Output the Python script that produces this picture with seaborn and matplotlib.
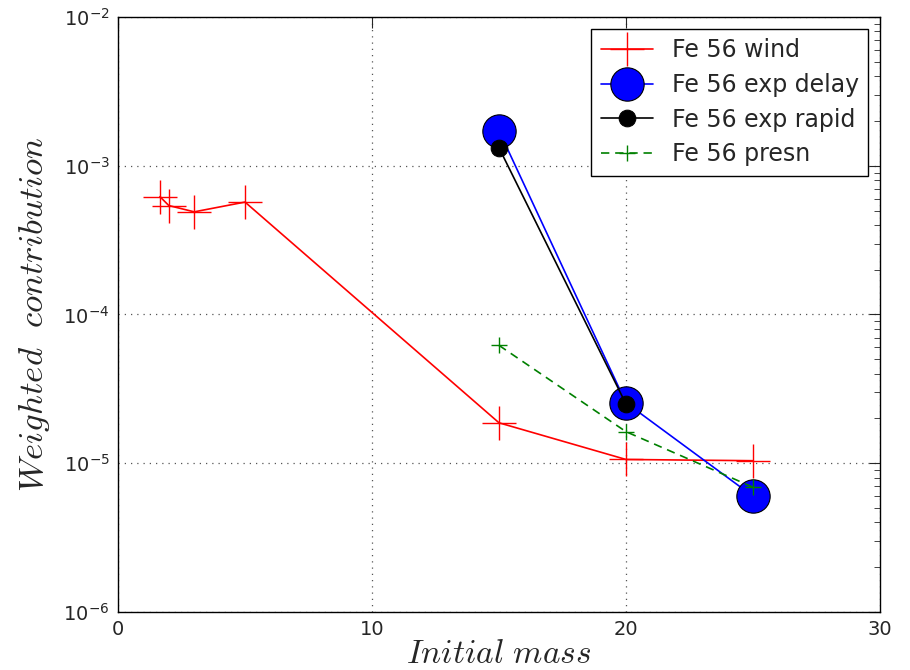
import numpy as np
import pandas as pd
import matplotlib
matplotlib.use("Agg")
import matplotlib.pyplot as plt
import seaborn as sns
from matplotlib.ticker import LogLocator, FixedLocator

# ---- data ----
wind_mass = [1.65, 2.0, 3.0, 5.0, 15.0, 20.0, 25.0]
wind_val = [6.2e-4, 5.4e-4, 4.9e-4, 5.7e-4, 1.87e-5, 1.06e-5, 1.04e-5]

delay_mass = [15.0, 20.0, 25.0]
delay_val = [1.72e-3, 2.55e-5, 6.0e-6]

rapid_mass = [15.0, 20.0]
rapid_val = [1.32e-3, 2.5e-5]

presn_mass = [15.0, 20.0, 25.0]
presn_val = [6.2e-5, 1.63e-5, 6.9e-6]

labels = ["Fe 56 wind", "Fe 56 exp delay", "Fe 56 exp rapid", "Fe 56 presn"]
x_ticks = [0, 10, 20, 30]

sns.set_style("white")
plt.rcParams.update({
    "font.family": ["DejaVu Sans"],
    "mathtext.fontset": "cm",
    "xtick.direction": "in",
    "ytick.direction": "in",
    "xtick.top": True,
    "ytick.right": True,
    "xtick.major.size": 8,
    "ytick.major.size": 8,
    "ytick.minor.size": 4,
    "xtick.minor.size": 4,
    "axes.edgecolor": "black",
    "axes.linewidth": 1.0,
})

fig = plt.figure(figsize=(9.1, 6.7), dpi=100)
ax = fig.add_axes([0.1297, 0.0866, 0.967 - 0.1297, 0.9746 - 0.0866])

sns.lineplot(x=wind_mass, y=wind_val, ax=ax, color="red", marker="+",
             markersize=24, markeredgecolor="red", markeredgewidth=1.0,
             linewidth=1.2, label=labels[0], sort=False)
sns.lineplot(x=delay_mass, y=delay_val, ax=ax, color="blue", marker="o",
             markersize=24, markeredgecolor="black", markeredgewidth=0.8,
             linewidth=1.2, label=labels[1], sort=False)
sns.lineplot(x=rapid_mass, y=rapid_val, ax=ax, color="black", marker="o",
             markersize=12, markeredgecolor="black", linewidth=1.2,
             label=labels[2], sort=False)
sns.lineplot(x=presn_mass, y=presn_val, ax=ax, color="green", marker="+",
             markersize=12, markeredgecolor="green", markeredgewidth=1.0,
             linewidth=1.2, dashes=(5, 3.5), label=labels[3], sort=False)

ax.set_yscale("log")
ax.set_xlim(0, 30)
ax.set_ylim(1e-6, 1e-2)
ax.xaxis.set_major_locator(FixedLocator(x_ticks))
ax.set_xticklabels([str(t) for t in x_ticks])
ax.yaxis.set_major_locator(LogLocator(base=10, numticks=10))
ax.yaxis.set_minor_locator(LogLocator(base=10, subs=np.arange(2, 10), numticks=20))
ax.tick_params(axis="both", which="major", labelsize=14, pad=6)
for sp in ax.spines.values():
    sp.set_visible(True)
    sp.set_color("black")

ax.grid(True, which="major", color="#555555", linestyle=(0, (1, 4)), linewidth=0.9)

ax.set_xlabel(r"$Initial\ mass$", fontsize=24, labelpad=-2)
ax.set_ylabel(r"$Weighted\ \ contribution$", fontsize=25, labelpad=8)

leg = ax.legend(loc="upper right", fontsize=17, frameon=True, fancybox=False,
                edgecolor="black", framealpha=1.0, borderaxespad=0.5,
                handlelength=2.2, labelspacing=0.45)
leg.get_frame().set_linewidth(1.0)

fig.savefig("out.png", dpi=100)
